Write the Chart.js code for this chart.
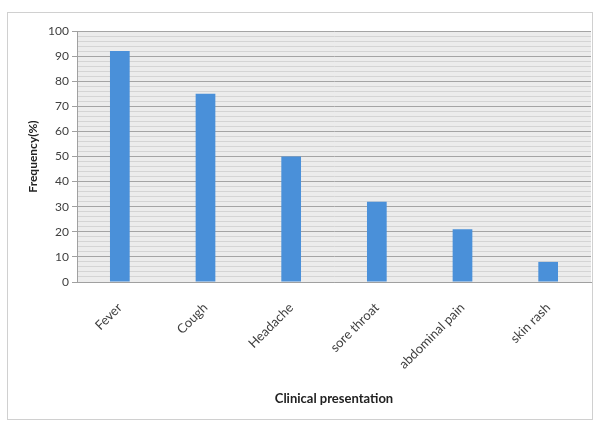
<!DOCTYPE html>
<html>
<head>
<meta charset="utf-8">
<script src="https://cdn.jsdelivr.net/npm/chart.js@4/dist/chart.umd.min.js"></script>
<style>
  html, body { margin: 0; padding: 0; background: #fff; }
  #wrap { width: 596px; height: 425px; position: relative; }
</style>
</head>
<body>
<div id="wrap"><canvas id="chart"></canvas></div>
<script>
// Data
const categories = ['Fever', 'Cough', 'Headache', 'sore throat', 'abdominal pain', 'skin rash'];
const frequency = [92, 75, 50, 32, 21, 8];
const yTickLabels = [0, 10, 20, 30, 40, 50, 60, 70, 80, 90, 100];

const textColor = '#404040';
const fontFamily = 'Lato, "Liberation Sans", sans-serif';

// Frame round the whole chart plus grey plot background
const frameAndBackground = {
  id: 'frameAndBackground',
  beforeDraw(chart) {
    const { ctx, chartArea } = chart;
    ctx.save();
    ctx.strokeStyle = '#d0d0d0';
    ctx.lineWidth = 1;
    ctx.strokeRect(7.5, 12.5, 585, 407);
    ctx.fillStyle = '#ececec';
    ctx.fillRect(chartArea.left, chartArea.top, chartArea.right - chartArea.left, chartArea.bottom - chartArea.top);
    ctx.restore();
  },
};

const isMajor = (v) => yTickLabels.includes(v);

const ctx = document.getElementById('chart');
// eslint-disable-next-line no-unused-vars
const chart = new Chart(ctx, {
  type: 'bar',
  data: {
    labels: categories,
    datasets: [
      {
        label: 'Frequency(%)',
        data: frequency,
        backgroundColor: '#4a90d9',
        barPercentage: 0.23,
        categoryPercentage: 1,
      },
    ],
  },
  options: {
    responsive: true,
    maintainAspectRatio: false,
    animation: false,
    layout: {
      padding: {
        top: 31,
        left: 8,
        right: 5,
        bottom: 0,
      },
    },
    scales: {
      y: {
        min: 0,
        max: 100,
        afterFit: (scale) => { scale.width = 69; },
        border: { color: '#a0a0a0' },
        grid: {
          color: (c) => (isMajor(c.tick.value) ? '#a4a4a4' : '#d4d4d4'),
          tickColor: (c) => (isMajor(c.tick.value) ? '#a0a0a0' : 'rgba(0,0,0,0)'),
          tickLength: 5,
        },
        ticks: {
          stepSize: 2,
          autoSkip: false,
          color: textColor,
          font: { family: fontFamily, size: 12 },
          callback: (value) => (isMajor(value) ? String(value) : ''),
        },
        title: {
          display: true,
          text: 'Frequency(%)',
          color: '#222',
          font: { family: fontFamily, size: 12, weight: 'bold' },
          padding: { top: 18, bottom: 0 },
        },
      },
      x: {
        afterFit: (scale) => { scale.height = 143; },
        border: { color: '#a0a0a0' },
        grid: { display: false },
        ticks: {
          minRotation: 45,
          maxRotation: 45,
          autoSkip: false,
          padding: 10,
          color: textColor,
          font: { family: fontFamily, size: 13 },
        },
        title: {
          display: true,
          text: 'Clinical presentation',
          color: '#222',
          font: { family: fontFamily, size: 13, weight: 'bold' },
          padding: { top: 0, bottom: 18 },
        },
      },
    },
    plugins: {
      legend: { display: false },
      tooltip: { enabled: false },
    },
  },
  plugins: [frameAndBackground],
});
</script>
</body>
</html>
